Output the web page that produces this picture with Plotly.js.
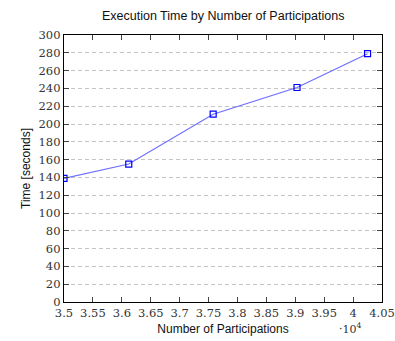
<!DOCTYPE html>
<html>
<head>
<meta charset="utf-8">
<script src="https://cdn.plot.ly/plotly-3.0.1.min.js"></script>
<style>html,body{margin:0;padding:0;background:#fff;}#chart{width:395px;height:341px;}</style>
</head>
<body>
<div id="chart"></div>
<script>
// Number of participations (raw counts) and execution time in seconds
var participations = [35000, 36120, 37580, 39030, 40250];
var timeSeconds = [139, 155, 211, 241, 279];
var xTickVals = [3.5, 3.55, 3.6, 3.65, 3.7, 3.75, 3.8, 3.85, 3.9, 3.95, 4, 4.05];
var xTickText = ['3.5', '3.55', '3.6', '3.65', '3.7', '3.75', '3.8', '3.85', '3.9', '3.95', '4', '4.05'];
var yTickVals = [0, 20, 40, 60, 80, 100, 120, 140, 160, 180, 200, 220, 240, 260, 280, 300];

var xScaled = participations.map(function (v) { return v / 1e4; });

var trace = {
  x: xScaled,
  y: timeSeconds,
  type: 'scatter',
  mode: 'lines+markers',
  line: {color: 'rgb(110,110,255)', width: 1.2},
  marker: {symbol: 'square-open', size: 6, color: 'rgb(0,0,255)', line: {width: 1.2, color: 'rgb(0,0,255)'}},
  showlegend: false,
  hoverinfo: 'x+y'
};

var serif = '"DejaVu Serif", "Liberation Serif", serif';
var sans = '"Liberation Sans", Arial, sans-serif';

var layout = {
  width: 395,
  height: 341,
  margin: {l: 64, r: 13, t: 35, b: 39},
  paper_bgcolor: '#fff',
  plot_bgcolor: '#fff',
  title: {text: 'Execution Time by Number of Participations', font: {family: sans, size: 12.5, color: '#111'}, x: 0.565, xanchor: 'center', y: 0.955, yanchor: 'middle'},
  xaxis: {
    range: [3.5, 4.05],
    tickmode: 'array', tickvals: xTickVals, ticktext: xTickText,
    ticks: 'inside', ticklen: 5, tickcolor: '#444', tickwidth: 1,
    showline: true, linecolor: '#000', linewidth: 1.2, mirror: 'ticks',
    showgrid: false, zeroline: false,
    tickfont: {family: serif, size: 11.5, color: '#333'},
    title: {text: 'Number of Participations', font: {family: sans, size: 12, color: '#111'}, standoff: 5}
  },
  yaxis: {
    range: [0, 300],
    tickmode: 'array', tickvals: yTickVals,
    ticks: 'inside', ticklen: 5, tickcolor: '#444', tickwidth: 1,
    showline: true, linecolor: '#000', linewidth: 1.2, mirror: 'ticks',
    showgrid: true, gridcolor: '#c4c4c4', gridwidth: 1, griddash: '4px,3px',
    zeroline: false,
    tickfont: {family: serif, size: 11.5, color: '#333'},
    title: {text: 'Time [seconds]', font: {family: sans, size: 12, color: '#111'}, standoff: 5}
  },
  annotations: [{
    xref: 'paper', yref: 'paper', x: 0.86, y: -0.1, xanchor: 'left', yanchor: 'middle',
    text: '·10<sup>4</sup>', showarrow: false,
    font: {family: serif, size: 11, color: '#333'}
  }]
};

Plotly.newPlot('chart', [trace], layout, {displayModeBar: false, staticPlot: true});
</script>
</body>
</html>
